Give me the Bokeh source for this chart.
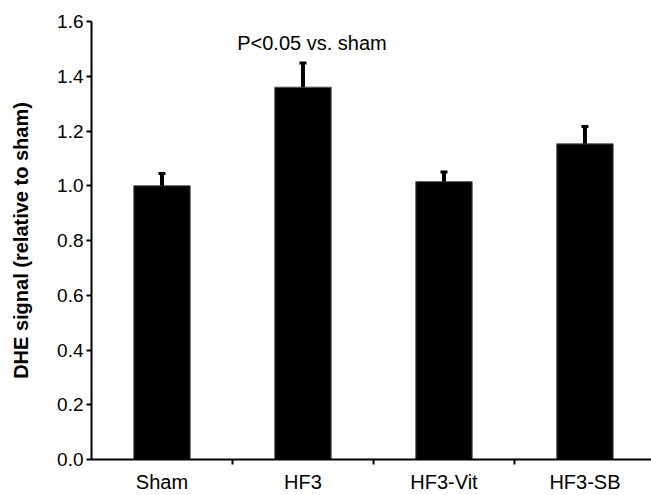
import numpy as np
from bokeh.plotting import figure
from bokeh.models import Range1d, FixedTicker, ColumnDataSource, Label, NumeralTickFormatter
from bokeh.embed import file_html
from bokeh.resources import INLINE

categories = ["Sham", "HF3", "HF3-Vit", "HF3-SB"]
means = [1.00, 1.36, 1.015, 1.153]
errors = [0.045, 0.088, 0.035, 0.063]
y_ticks = [0.0, 0.2, 0.4, 0.6, 0.8, 1.0, 1.2, 1.4, 1.6]
annotation = "P<0.05 vs. sham"

FONT = "Liberation Sans"

x = np.arange(len(categories)) + 0.5
tops = np.array(means) + np.array(errors)
src = ColumnDataSource(dict(x=x, cat=categories, mean=means, top=tops,
                            zero=[0] * len(categories)))

p = figure(width=651, height=495, output_backend="svg", toolbar_location=None,
           x_range=Range1d(0, 3.972), y_range=Range1d(0, 1.6),
           min_border_left=91, min_border_top=21, min_border_bottom=36,
           min_border_right=0)
p.outline_line_color = None
p.grid.visible = False
p.background_fill_color = "white"

# bars
p.vbar(x="x", top="mean", bottom="zero", width=0.4, source=src,
       fill_color="black", line_color="#555555", line_width=1)
# error bars
p.segment(x0="x", y0="mean", x1="x", y1="top", source=src,
          line_color="black", line_width=4)
p.rect(x="x", y="top", width=7, height=3, width_units="screen",
       height_units="screen", source=src, fill_color="black", line_color=None)

# y axis
ya = p.yaxis[0]
ya.ticker = FixedTicker(ticks=y_ticks)
ya.formatter = NumeralTickFormatter(format="0.0")
ya.axis_line_width = 2
ya.axis_line_color = "black"
ya.major_tick_line_width = 2
ya.major_tick_out = 5
ya.major_tick_in = 0
ya.minor_tick_line_color = None
ya.major_label_text_font = FONT
ya.major_label_text_font_size = "19px"
ya.major_label_text_color = "black"
ya.major_label_standoff = 3
ya.axis_label = "DHE signal (relative to sham)"
ya.axis_label_text_font = FONT
ya.axis_label_text_font_style = "bold"
ya.axis_label_text_font_size = "20px"
ya.axis_label_text_color = "black"
ya.axis_label_standoff = 22

# x axis: tick marks at category boundaries, labels under bar centres
xa = p.xaxis[0]
xa.ticker = FixedTicker(ticks=list(x), minor_ticks=list(np.arange(1, len(categories))))
xa.major_label_overrides = {float(v): c for v, c in zip(x, categories)}
xa.major_label_text_font = FONT
xa.major_label_text_font_size = "20px"
xa.major_label_text_color = "black"
xa.major_tick_out = 0
xa.major_tick_in = 0
xa.major_tick_line_color = None
xa.minor_tick_out = 5
xa.minor_tick_in = 0
xa.minor_tick_line_width = 2
xa.minor_tick_line_color = "black"
xa.axis_line_width = 2
xa.axis_line_color = "black"
xa.major_label_standoff = 6

p.add_layout(Label(x=x[1], y=1.52, x_offset=9, text=annotation, text_align="center",
                   text_baseline="alphabetic", text_font=FONT,
                   text_font_size="20px", text_color="black"))

open("out.html", "w").write(file_html(p, INLINE))
